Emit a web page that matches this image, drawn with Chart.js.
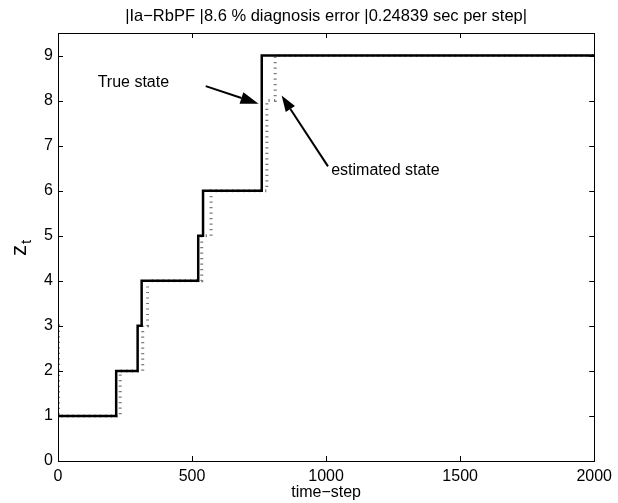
<!DOCTYPE html>
<html><head><meta charset="utf-8">
<script src="https://cdn.jsdelivr.net/npm/chart.js@4/dist/chart.umd.min.js"></script>
<style>html,body{margin:0;padding:0;background:#fff}#wrap{width:618px;height:503px}</style>
</head><body><div id="wrap"><canvas id="c" width="618" height="503"></canvas></div>
<script>
const titleText = '|Ia\u2212RbPF |8.6 % diagnosis error |0.24839 sec per step|';
const xLabel = 'time\u2212step';
const xTicks = [0, 500, 1000, 1500, 2000];
const yTicks = [0, 1, 2, 3, 4, 5, 6, 7, 8, 9];
const trueX = [0, 217, 297, 312, 523, 541, 760, 2000];
const trueY = [1, 2, 3, 4, 5, 6, 9, 9];
const estX = [0, 2, 232, 316, 334, 536, 571, 779, 810, 2000];
const estY = [3, 1, 2, 3, 4, 5, 6, 8, 9, 9];
// annotations in data units
const annTrueText = {x: 148, y: 8.4, text: 'True state'};
const annTrueArrow = {x0: 551, y0: 8.32, x1: 748, y1: 7.93};
const annEstText = {x: 1019, y: 6.44, text: 'estimated state'};
const annEstArrow = {x0: 1007, y0: 6.54, x1: 834, y1: 8.11};

const FONT = '"Liberation Sans", Arial, Helvetica, sans-serif';

function arrow(ctx, x0, y0, x1, y1, headLen, headW) {
  const ang = Math.atan2(y1 - y0, x1 - x0);
  const bx = x1 - headLen * Math.cos(ang), by = y1 - headLen * Math.sin(ang);
  ctx.beginPath(); ctx.moveTo(x0, y0); ctx.lineTo(bx, by);
  ctx.lineWidth = 2; ctx.strokeStyle = '#000'; ctx.stroke();
  const px = -Math.sin(ang) * headW / 2, py = Math.cos(ang) * headW / 2;
  ctx.beginPath(); ctx.moveTo(x1, y1); ctx.lineTo(bx + px, by + py); ctx.lineTo(bx - px, by - py); ctx.closePath();
  ctx.fillStyle = '#000'; ctx.fill();
}

const deco = {
  id: 'deco',
  afterDraw(chart) {
    const ctx = chart.ctx, a = chart.chartArea, xs = chart.scales.x, ys = chart.scales.y;
    ctx.save();
    ctx.strokeStyle = '#000'; ctx.lineWidth = 1;
    ctx.strokeRect(Math.round(a.left) + 0.5, Math.round(a.top) + 0.5, Math.round(a.right - a.left), Math.round(a.bottom - a.top));
    const tl = 5;
    ctx.beginPath();
    xTicks.forEach(v => {
      const px = Math.round(xs.getPixelForValue(v)) + 0.5;
      ctx.moveTo(px, a.bottom); ctx.lineTo(px, a.bottom - tl);
      ctx.moveTo(px, a.top); ctx.lineTo(px, a.top + tl);
    });
    yTicks.forEach(v => {
      const py = Math.round(ys.getPixelForValue(v)) + 0.5;
      ctx.moveTo(a.left, py); ctx.lineTo(a.left + tl, py);
      ctx.moveTo(a.right, py); ctx.lineTo(a.right - tl, py);
    });
    ctx.stroke();
    ctx.fillStyle = '#000';
    ctx.font = '16.5px ' + FONT; ctx.textAlign = 'center'; ctx.textBaseline = 'alphabetic';
    ctx.fillText(titleText, (a.left + a.right) / 2, 21);
    ctx.font = '16px ' + FONT;
    ctx.fillText(xLabel, (a.left + a.right) / 2, 497);
    ctx.save();
    ctx.translate(26, 256); ctx.rotate(-Math.PI / 2);
    ctx.textAlign = 'left';
    ctx.font = '22px ' + FONT; ctx.fillText('z', 0, 0);
    const zw = ctx.measureText('z').width;
    ctx.font = '15px ' + FONT; ctx.fillText('t', zw + 1, 5);
    ctx.restore();
    ctx.font = '16px ' + FONT; ctx.textAlign = 'left'; ctx.textBaseline = 'middle';
    ctx.fillText(annTrueText.text, xs.getPixelForValue(annTrueText.x), ys.getPixelForValue(annTrueText.y));
    ctx.fillText(annEstText.text, xs.getPixelForValue(annEstText.x), ys.getPixelForValue(annEstText.y));
    arrow(ctx, xs.getPixelForValue(annTrueArrow.x0), ys.getPixelForValue(annTrueArrow.y0),
      xs.getPixelForValue(annTrueArrow.x1), ys.getPixelForValue(annTrueArrow.y1), 18, 12);
    arrow(ctx, xs.getPixelForValue(annEstArrow.x0), ys.getPixelForValue(annEstArrow.y0),
      xs.getPixelForValue(annEstArrow.x1), ys.getPixelForValue(annEstArrow.y1), 16, 11);
    ctx.restore();
  }
};

new Chart(document.getElementById('c'), {
  type: 'line',
  data: {
    datasets: [
      {label: 'True state', data: trueX.map((x, i) => ({x, y: trueY[i]})), stepped: 'before',
       borderColor: '#000', borderWidth: 2.5, pointRadius: 0, fill: false, order: 0},
      {label: 'estimated state', data: estX.map((x, i) => ({x, y: estY[i]})), stepped: 'before',
       borderColor: '#7a7a7a', borderWidth: 3, borderDash: [1.2, 4.3], borderCapStyle: 'butt',
       pointRadius: 0, fill: false, order: 1}
    ]
  },
  options: {
    responsive: false, animation: false, devicePixelRatio: 1,
    layout: {padding: {top: 33, right: 20, left: 0, bottom: 0}},
    plugins: {legend: {display: false}, tooltip: {enabled: false}, title: {display: false}},
    scales: {
      x: {type: 'linear', min: 0, max: 2000,
        afterBuildTicks: s => { s.ticks = xTicks.map(v => ({value: v})); },
        afterFit: s => { s.height = 42; },
        grid: {display: false, drawTicks: false}, border: {display: false},
        ticks: {color: '#000', font: {size: 16, family: FONT}, padding: 6, maxRotation: 0,
          callback: v => String(v)}},
      y: {type: 'linear', min: 0, max: 9.5,
        afterBuildTicks: s => { s.ticks = yTicks.map(v => ({value: v})); },
        afterFit: s => { s.width = 58; },
        grid: {display: false, drawTicks: false}, border: {display: false},
        ticks: {color: '#000', font: {size: 16, family: FONT}, padding: 5, callback: v => String(v)}}
    }
  },
  plugins: [deco]
});
</script></body></html>
